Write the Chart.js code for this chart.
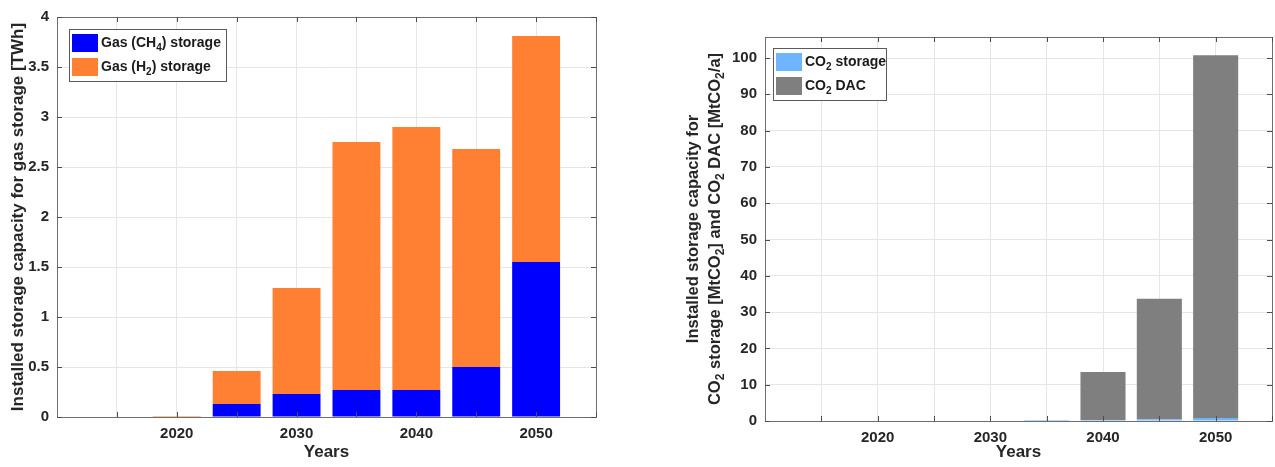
<!DOCTYPE html>
<html>
<head>
<meta charset="utf-8">
<script src="https://cdn.jsdelivr.net/npm/chart.js@4.4.1/dist/chart.umd.min.js"></script>
<style>
  html, body { margin: 0; padding: 0; background: #fff; overflow: hidden; }
  body { width: 1275px; height: 467px; position: relative; }
  .box { position: absolute; top: 0; height: 467px; }
  #leftBox { left: 0; width: 620px; }
  #rightBox { left: 640px; width: 640px; }
</style>
</head>
<body>
<div class="box" id="leftBox"><canvas id="gasChart"></canvas></div>
<div class="box" id="rightBox"><canvas id="co2Chart"></canvas></div>
<script>
// years of the bars
const years = [2020, 2025, 2030, 2035, 2040, 2045, 2050];
// x grid / tick positions, only the decades get a label
const xTicks = [2015, 2020, 2025, 2030, 2035, 2040, 2045, 2050, 2055];
const xLabelled = [2020, 2030, 2040, 2050];

// left chart, TWh
const gasCH4 = [0, 0.13, 0.23, 0.27, 0.27, 0.50, 1.55];
const gasH2 = [0.01, 0.33, 1.06, 2.48, 2.63, 2.18, 2.26];

// right chart, MtCO2 and MtCO2/a
const co2Storage = [0, 0, 0, 0.3, 0.25, 0.5, 0.8];
const co2DAC = [0, 0, 0, 0, 13.25, 33.2, 100.0];

const FONT = '"Liberation Sans", Arial, Helvetica, sans-serif';
const TXT = '#262626';
const SUBS = '\u2080\u2081\u2082\u2083\u2084\u2085\u2086\u2087\u2088\u2089';

// width of a label whose subscripts are drawn lowered and smaller
function textWidth(ctx, text, size) {
  let w = 0;
  for (const ch of text) {
    const k = SUBS.indexOf(ch);
    ctx.font = 'bold ' + (k >= 0 ? Math.round(size * 0.72) : size) + 'px ' + FONT;
    w += ctx.measureText(k >= 0 ? String(k) : ch).width;
  }
  return w;
}
function drawLabel(ctx, text, x, y, size) {
  let cx = x;
  for (const ch of text) {
    const k = SUBS.indexOf(ch);
    if (k >= 0) {
      ctx.font = 'bold ' + Math.round(size * 0.72) + 'px ' + FONT;
      ctx.fillText(String(k), cx, y + size * 0.36);
      cx += ctx.measureText(String(k)).width;
    } else {
      ctx.font = 'bold ' + size + 'px ' + FONT;
      ctx.fillText(ch, cx, y);
      cx += ctx.measureText(ch).width;
    }
  }
}

// matlab style box, inner tick marks, framed legend and rotated y title
const boxPlugin = {
  id: 'boxLegend',
  afterDraw(chart, args, opts) {
    const ctx = chart.ctx;
    const a = chart.chartArea;
    ctx.save();
    ctx.strokeStyle = '#6e6e6e';
    ctx.lineWidth = 1;
    ctx.strokeRect(a.left + 0.5, a.top + 0.5, a.right - a.left, a.bottom - a.top);

    ctx.strokeStyle = '#4d4d4d';
    ctx.beginPath();
    chart.scales.x.ticks.forEach(t => {
      const px = Math.round(chart.scales.x.getPixelForValue(t.value)) + 0.5;
      ctx.moveTo(px, a.bottom); ctx.lineTo(px, a.bottom - 5);
      ctx.moveTo(px, a.top); ctx.lineTo(px, a.top + 5);
    });
    chart.scales.y.ticks.forEach(t => {
      const py = Math.round(chart.scales.y.getPixelForValue(t.value)) + 0.5;
      ctx.moveTo(a.left, py); ctx.lineTo(a.left + 5, py);
      ctx.moveTo(a.right, py); ctx.lineTo(a.right - 5, py);
    });
    ctx.stroke();

    // legend
    const lx = a.left + opts.x, ly = a.top + opts.y;
    const rowH = 24;
    const h = chart.data.datasets.length * rowH + 4;
    ctx.fillStyle = '#fff';
    ctx.fillRect(lx, ly, opts.w, h);
    ctx.strokeStyle = '#5a5a5a';
    ctx.strokeRect(lx + 0.5, ly + 0.5, opts.w, h);
    ctx.textBaseline = 'middle';
    chart.data.datasets.forEach((ds, i) => {
      const cy = ly + 14 + i * rowH;
      ctx.fillStyle = ds.backgroundColor;
      ctx.fillRect(lx + 3, cy - 9, 26, 18);
      ctx.fillStyle = '#1a1a1a';
      drawLabel(ctx, ds.label, lx + 32, cy, 14);
    });

    // y axis title, rotated, one or more lines
    const cyMid = (a.top + a.bottom) / 2;
    ctx.fillStyle = TXT;
    opts.title.forEach((line, i) => {
      const w = textWidth(ctx, line, opts.titleSize);
      ctx.save();
      ctx.translate(opts.titleX[i], cyMid);
      ctx.rotate(-Math.PI / 2);
      drawLabel(ctx, line, -w / 2, 0, opts.titleSize);
      ctx.restore();
    });
    ctx.restore();
  }
};

function makeChart(id, sets, yMax, yStep, yWidth, pad, legendOpt) {
  return new Chart(document.getElementById(id), {
    type: 'bar',
    data: {
      labels: years,
      datasets: sets.map(s => ({
        label: s.label,
        data: years.map((yr, i) => ({ x: yr, y: s.data[i] })),
        backgroundColor: s.color,
        borderWidth: 0,
        categoryPercentage: 1,
        barPercentage: 0.8
      }))
    },
    options: {
      responsive: true,
      maintainAspectRatio: false,
      animation: false,
      layout: { padding: pad },
      plugins: {
        legend: { display: false },
        tooltip: { enabled: false },
        boxLegend: legendOpt
      },
      scales: {
        x: {
          type: 'linear',
          stacked: true,
          offset: false,
          min: 2010,
          max: 2055,
          afterBuildTicks: s => { s.ticks = xTicks.map(v => ({ value: v })); },
          afterFit: s => { s.height = pad.xh; },
          ticks: {
            autoSkip: false,
            maxRotation: 0,
            padding: 8,
            color: TXT,
            font: { family: FONT, size: 15, weight: 'bold' },
            callback: v => xLabelled.includes(v) ? String(v) : ''
          },
          grid: { color: '#e6e6e6', drawTicks: false, offset: false },
          border: { display: false },
          title: {
            display: true,
            text: 'Years',
            color: TXT,
            padding: { top: 2 },
            font: { family: FONT, size: 17, weight: 'bold' }
          }
        },
        y: {
          stacked: true,
          min: 0,
          max: yMax,
          afterBuildTicks: s => {
            const t = [];
            for (let v = 0; v <= yMax + 1e-9; v += yStep) t.push({ value: Math.round(v * 10) / 10 });
            s.ticks = t;
          },
          afterFit: s => { s.width = yWidth; },
          ticks: {
            padding: 8,
            color: TXT,
            font: { family: FONT, size: 15, weight: 'bold' },
            callback: v => String(v)
          },
          grid: { color: '#e6e6e6', drawTicks: false },
          border: { display: false }
        }
      }
    },
    plugins: [boxPlugin]
  });
}

makeChart('gasChart',
  [
    { label: 'Gas (CH\u2084) storage', data: gasCH4, color: '#0000ff' },
    { label: 'Gas (H\u2082) storage', data: gasH2, color: '#ff8033' }
  ],
  4, 0.5, 57,
  { top: 17, right: 24, left: 0, bottom: 0, xh: 50 },
  {
    x: 12, y: 12, w: 157,
    title: ['Installed storage capacity for gas storage [TWh]'],
    titleX: [18], titleSize: 17
  }
);

makeChart('co2Chart',
  [
    { label: 'CO\u2082 storage', data: co2Storage, color: '#6eb4ff' },
    { label: 'CO\u2082 DAC', data: co2DAC, color: '#7f7f7f' }
  ],
  105.8, 10, 125,
  { top: 37, right: 4, left: 0, bottom: 0, xh: 46 },
  {
    x: 8, y: 11, w: 113,
    title: ['Installed storage capacity for', 'CO\u2082 storage [MtCO\u2082] and CO\u2082 DAC [MtCO\u2082/a]'],
    titleX: [53, 75], titleSize: 16.5
  }
);
</script>
</body>
</html>
